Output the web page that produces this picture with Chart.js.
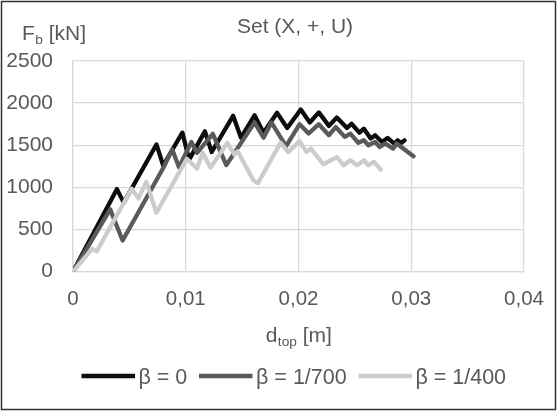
<!DOCTYPE html>
<html>
<head>
<meta charset="utf-8">
<script src="https://cdn.jsdelivr.net/npm/chart.js@4.4.1/dist/chart.umd.min.js"></script>
<style>
  html, body { margin: 0; padding: 0; background: #ffffff; }
  #wrap { width: 560px; height: 412px; position: relative; }
</style>
</head>
<body>
<div id="wrap"><canvas id="chart" width="560" height="412"></canvas></div>
<script>
// Top displacement d_top [m] and base force F_b [kN] for each drift ratio β
const seriesLabels = ['β = 0', 'β = 1/700', 'β = 1/400'];
const seriesColors = ['#0d0d0d', '#5a5a5a', '#cccccc'];

const dispBeta0 = [0, 0.0039, 0.0045, 0.0074, 0.0080, 0.0097, 0.0103, 0.0117, 0.0123, 0.0142,
  0.0149, 0.0161, 0.0169, 0.0181, 0.0190, 0.0202, 0.0210, 0.0218, 0.0227, 0.0234,
  0.0243, 0.0247, 0.0254, 0.0258, 0.0264, 0.0268, 0.0274, 0.0279, 0.0285, 0.0288,
  0.0291, 0.0294];
const forceBeta0 = [0, 980, 820, 1510, 1260, 1650, 1330, 1665, 1420, 1850,
  1590, 1855, 1650, 1885, 1705, 1925, 1770, 1890, 1730, 1830,
  1705, 1756, 1650, 1697, 1580, 1618, 1538, 1586, 1520, 1559,
  1527, 1559];

const dispBeta700 = [0, 0.0033, 0.0044, 0.0080, 0.0088, 0.0094, 0.0105, 0.0110, 0.0124, 0.0136,
  0.0161, 0.0169, 0.0176, 0.0189, 0.0201, 0.0209, 0.0218, 0.0227, 0.0233, 0.0241,
  0.0246, 0.0253, 0.0258, 0.0262, 0.0268, 0.0272, 0.0277, 0.0284, 0.0287, 0.0302];
const forceBeta700 = [0, 740, 370, 1230, 1450, 1240, 1540, 1410, 1635, 1265,
  1770, 1590, 1770, 1490, 1750, 1640, 1750, 1620, 1716, 1600,
  1638, 1530, 1560, 1500, 1540, 1480, 1520, 1460, 1520, 1370];

const dispBeta400 = [0, 0.0017, 0.0021, 0.0052, 0.0058, 0.0065, 0.0074, 0.0101, 0.0110, 0.0115,
  0.0122, 0.0137, 0.0143, 0.0146, 0.0160, 0.0164, 0.0184, 0.0191, 0.0201, 0.0207,
  0.0211, 0.0222, 0.0234, 0.0240, 0.0246, 0.0252, 0.0258, 0.0262, 0.0267, 0.0273];
const forceBeta400 = [0, 270, 240, 985, 870, 1065, 700, 1340, 1225, 1410,
  1235, 1530, 1390, 1430, 1085, 1050, 1530, 1420, 1550, 1420,
  1460, 1275, 1360, 1263, 1322, 1263, 1322, 1263, 1302, 1212];

const xTickValues = [0, 0.01, 0.02, 0.03, 0.04];
const yTickValues = [0, 500, 1000, 1500, 2000, 2500];

const FONT = '"Liberation Sans", Arial, sans-serif';
const TEXT = '#595959';
const GRID = '#d9d9d9';

function pairs(xs, ys) { return xs.map((x, i) => ({ x: x, y: ys[i] })); }

const seriesData = [
  pairs(dispBeta0, forceBeta0),
  pairs(dispBeta700, forceBeta700),
  pairs(dispBeta400, forceBeta400)
];

// Text with a subscript part (main, sub, rest) on an alphabetic baseline
function drawSubText(ctx, x, baseY, main, sub, rest, size, align) {
  ctx.save();
  ctx.fillStyle = TEXT;
  ctx.textBaseline = 'alphabetic';
  ctx.textAlign = 'left';
  const big = size + 'px ' + FONT;
  const small = (size * 0.65).toFixed(1) + 'px ' + FONT;
  ctx.font = big; const w1 = ctx.measureText(main).width;
  ctx.font = small; const w2 = ctx.measureText(sub).width;
  ctx.font = big; const w3 = ctx.measureText(rest).width;
  const sx = align === 'center' ? x - (w1 + w2 + w3) / 2 : x;
  ctx.font = big; ctx.fillText(main, sx, baseY);
  ctx.font = small; ctx.fillText(sub, sx + w1 + 0.5, baseY + 4);
  ctx.font = big; ctx.fillText(rest, sx + w1 + w2 + 0.5, baseY);
  ctx.restore();
}

const decorations = {
  id: 'decorations',
  beforeDraw(chart) {
    const ctx = chart.ctx;
    ctx.save();
    ctx.fillStyle = '#ffffff';
    ctx.fillRect(0, 0, chart.width, chart.height);
    ctx.restore();
  },
  afterDraw(chart) {
    const ctx = chart.ctx;
    const area = chart.chartArea;
    // chart title
    ctx.save();
    ctx.fillStyle = TEXT;
    ctx.font = '21px ' + FONT;
    ctx.textAlign = 'center';
    ctx.textBaseline = 'alphabetic';
    ctx.fillText('Set (X, +, U)', 295, 32.5);
    ctx.restore();
    // axis titles
    drawSubText(ctx, 22, 39.5, 'F', 'b', ' [kN]', 21, 'left');
    drawSubText(ctx, (area.left + area.right) / 2, 342, 'd', 'top', ' [m]', 21, 'center');
    // legend row
    ctx.save();
    ctx.font = '21.5px ' + FONT;
    ctx.textBaseline = 'alphabetic';
    ctx.textAlign = 'left';
    let lx = 81.5;
    const ly = 376;
    chart.data.datasets.forEach((ds) => {
      ctx.strokeStyle = ds.borderColor;
      ctx.lineWidth = 4.3;
      ctx.lineCap = 'butt';
      ctx.beginPath();
      ctx.moveTo(lx, ly);
      ctx.lineTo(lx + 53.5, ly);
      ctx.stroke();
      ctx.fillStyle = TEXT;
      ctx.fillText(ds.label, lx + 57, 384);
      lx += 57 + ctx.measureText(ds.label).width + 11.7;
    });
    ctx.restore();
    // outer frame
    ctx.save();
    ctx.strokeStyle = '#333333';
    ctx.lineWidth = 1.5;
    ctx.strokeRect(1.5, 1.5, 554, 408);
    ctx.restore();
  }
};

new Chart(document.getElementById('chart'), {
  type: 'line',
  data: {
    datasets: seriesLabels.map((label, i) => ({
      label: label,
      data: seriesData[i],
      borderColor: seriesColors[i],
      backgroundColor: seriesColors[i],
      borderWidth: 4.3,
      pointRadius: 0,
      tension: 0,
      fill: false,
      borderJoinStyle: 'round',
      borderCapStyle: 'round',
      order: 3 - i
    }))
  },
  options: {
    responsive: false,
    animation: false,
    devicePixelRatio: 1,
    layout: { padding: { left: 0, right: 36, top: 61, bottom: 0 } },
    plugins: {
      legend: { display: false },
      title: { display: false },
      tooltip: { enabled: false }
    },
    scales: {
      x: {
        type: 'linear',
        min: 0,
        max: 0.04,
        afterFit(scale) { scale.height = 140.3; },
        afterBuildTicks(scale) { scale.ticks = xTickValues.map(v => ({ value: v })); },
        grid: { color: GRID, lineWidth: 1.3, drawTicks: false },
        border: { color: GRID, width: 1.3 },
        ticks: {
          padding: 15.5,
          color: TEXT,
          font: { family: FONT, size: 20.5 },
          maxRotation: 0,
          callback: (v) => v === 0 ? '0' : v.toFixed(2).replace('.', ',')
        }
      },
      y: {
        type: 'linear',
        min: 0,
        max: 2500,
        afterFit(scale) { scale.width = 73; },
        afterBuildTicks(scale) { scale.ticks = yTickValues.map(v => ({ value: v })); },
        grid: { color: GRID, lineWidth: 1.3, drawTicks: false },
        border: { color: GRID, width: 1.3 },
        ticks: {
          padding: 20,
          color: TEXT,
          font: { family: FONT, size: 21 },
          callback: (v) => String(v)
        }
      }
    }
  },
  plugins: [decorations]
});
</script>
</body>
</html>
